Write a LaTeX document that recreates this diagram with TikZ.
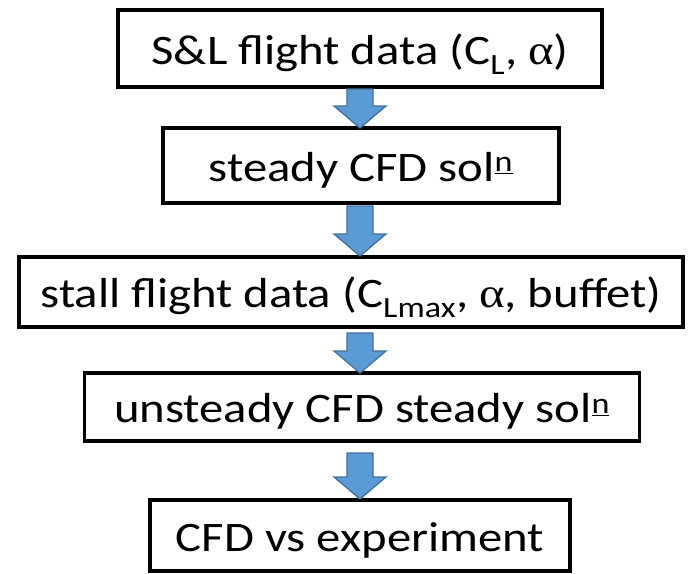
\documentclass[tikz,border=0pt]{standalone}
\usepackage{fontspec}
\setmainfont{Carlito}[FakeStretch=1.16]
\newfontfamily\symfont{Liberation Serif}[FakeStretch=1.16]
\usetikzlibrary{calc}
\definecolor{arrfill}{HTML}{5B9BD5}
\definecolor{arrline}{HTML}{41719C}
\newcommand{\alp}{{\symfont α}}
\tikzset{
  box/.style={draw=black, line width=3.5pt, fill=white, inner sep=0pt,
    font=\fontsize{42}{46}\selectfont, text height=31pt, text depth=0pt},
  blockarr/.style={fill=arrfill, draw=arrline, line width=1.3pt, line join=miter}
}
\newcommand{\flowarrow}[2]{%
  \path let \p1=(#1), \p2=(#2) in
    [blockarr] (\x1-13pt,\y1) -- (\x1+13pt,\y1) -- (\x1+13pt,\y2+22pt)
    -- (\x1+26pt,\y2+22pt) -- (\x1,\y2) -- (\x1-26pt,\y2+22pt)
    -- (\x1-13pt,\y2+22pt) -- cycle;}
\begin{document}
\begin{tikzpicture}[x=1pt,y=-1pt]
\useasboundingbox (0,0) rectangle (693,573);
\fill[white] (0,0) rectangle (693,573);
\node[box, minimum width=484pt, minimum height=77pt] (b1) at (360,48.5)
  {S\&L flight data (C\textsubscript{L}, \alp)};
\node[box, minimum width=396pt, minimum height=75pt] (b2) at (361,165.5)
  {steady CFD sol\textsuperscript{\underline{n}}};
\node[box, minimum width=664pt, minimum height=70pt] (b3) at (351,292)
  {stall flight data (C\textsubscript{Lmax}, \alp, buffet)};
\node[box, minimum width=555pt, minimum height=68pt] (b4) at (362,407)
  {unsteady CFD steady sol\textsuperscript{\underline{n}}};
\node[box, minimum width=420pt, minimum height=71pt] (b5) at (360,535.5)
  {CFD vs experiment};
\coordinate (a1s) at (360,89);  \coordinate (a1e) at (360,128);
\coordinate (a2s) at (360,206); \coordinate (a2e) at (360,256);
\coordinate (a3s) at (360,333); \coordinate (a3e) at (360,373);
\coordinate (a4s) at (360,453); \coordinate (a4e) at (360,499);
\flowarrow{a1s}{a1e}
\flowarrow{a2s}{a2e}
\flowarrow{a3s}{a3e}
\flowarrow{a4s}{a4e}
\end{tikzpicture}
\end{document}
